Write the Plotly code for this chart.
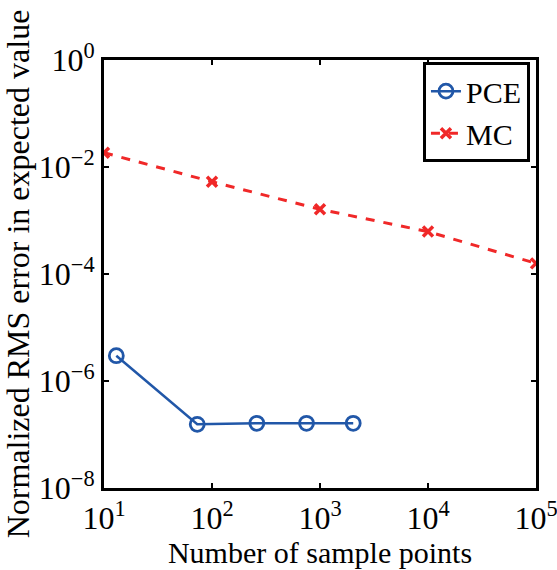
import plotly.graph_objects as go

pce_n = [13, 73, 260, 750, 2030]
pce_err = [2.97e-6, 1.55e-7, 1.62e-7, 1.62e-7, 1.62e-7]
mc_n = [10, 100, 1000, 10000, 100000]
mc_err = [0.0185, 0.0053, 0.00162, 6.2e-4, 1.58e-4]

x_tickvals = [10, 100, 1000, 10000, 100000]
x_ticktext = ["10<sup>1</sup>", "10<sup>2</sup>", "10<sup>3</sup>", "10<sup>4</sup>", "10<sup>5</sup>"]
y_tickvals = [1, 1e-2, 1e-4, 1e-6, 1e-8]
y_ticktext = ["10<sup>0</sup>", "10<sup>\u22122</sup>", "10<sup>\u22124</sup>", "10<sup>\u22126</sup>", "10<sup>\u22128</sup>"]

FONT = "Liberation Serif"
blue = "#2157a8"
red = "#f02828"

fig = go.Figure()
fig.add_trace(go.Scatter(
    x=pce_n, y=pce_err, name="PCE", mode="lines+markers",
    line=dict(color=blue, width=2.5),
    marker=dict(symbol="circle-open", size=14, color=blue, line=dict(width=2.8, color=blue)),
))
fig.add_trace(go.Scatter(
    x=mc_n, y=mc_err, name="MC", mode="lines+markers",
    line=dict(color=red, width=3, dash="dash"),
    marker=dict(symbol="x-thin", size=10, color=red, line=dict(width=3.5, color=red)),
))

fig.update_layout(
    width=557, height=570,
    margin=dict(l=104, r=21, t=60, b=82),
    paper_bgcolor="white", plot_bgcolor="white",
    font=dict(family=FONT, size=30, color="black"),
    showlegend=True,
    legend=dict(
        x=0.986, y=0.995, xanchor="right", yanchor="top",
        bgcolor="white", bordercolor="black", borderwidth=3,
        font=dict(family=FONT, size=30, color="black"),
        itemwidth=30, tracegroupgap=0,
    ),
    xaxis=dict(
        type="log", range=[1, 5], automargin=False, ticklabeloverflow="allow",
        tickvals=x_tickvals, ticktext=x_ticktext,
        ticks="inside", ticklen=5, tickwidth=2, tickcolor="black",
        showline=True, linecolor="black", linewidth=3, mirror="allticks",
        showgrid=False, zeroline=False,
        tickfont=dict(family=FONT, size=32, color="black"),
        title=dict(text="Number of sample points", font=dict(family=FONT, size=30, color="black"), standoff=0),
    ),
    yaxis=dict(
        type="log", range=[-8, 0], automargin=False, ticklabeloverflow="allow",
        tickvals=y_tickvals, ticktext=y_ticktext,
        ticks="inside", ticklen=5, tickwidth=2, tickcolor="black",
        showline=True, linecolor="black", linewidth=3, mirror="allticks",
        showgrid=False, zeroline=False,
        tickfont=dict(family=FONT, size=32, color="black"),
        title=dict(text="Normalized RMS error in expected value", font=dict(family=FONT, size=32, color="black"), standoff=2),
    ),
)

fig.write_html("out.html")
